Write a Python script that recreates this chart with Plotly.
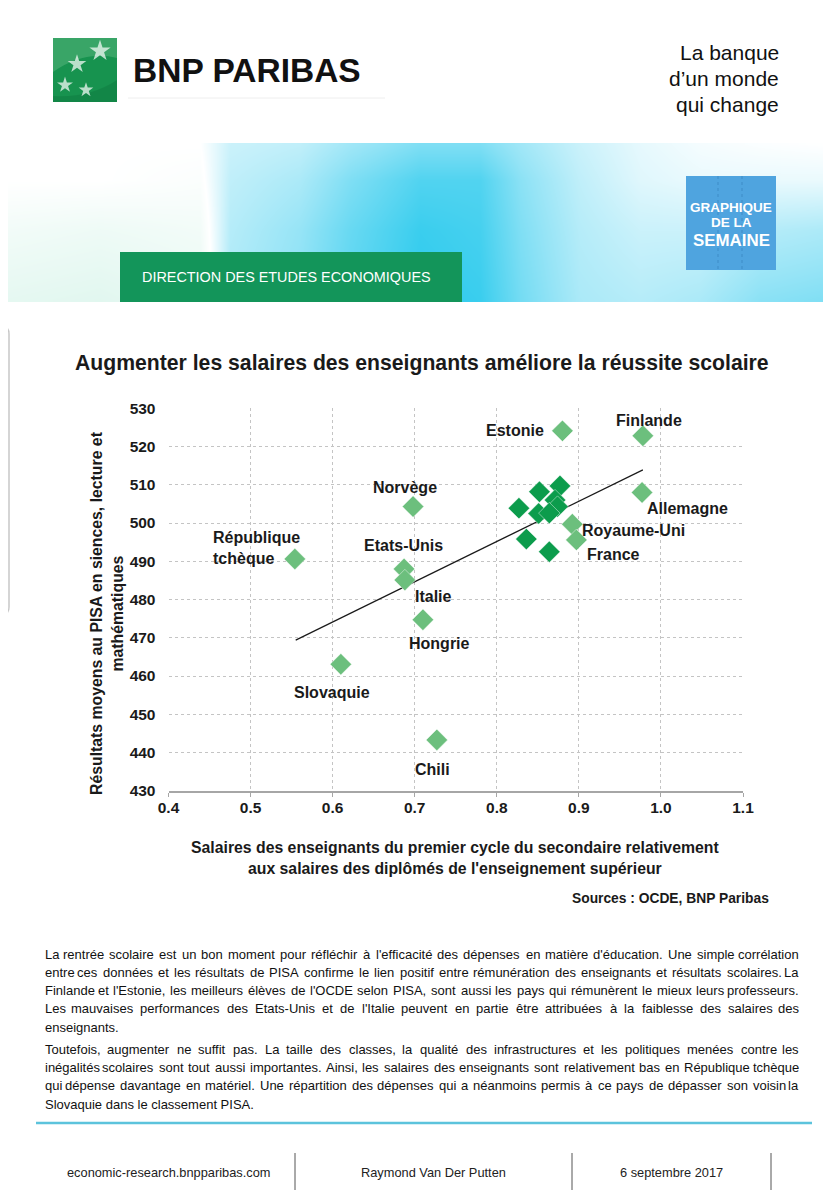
import plotly.graph_objects as go

# ---------------- data ----------------
countries = ["République<br>tchèque", "Norvège", "Etats-Unis", "Italie", "Hongrie",
             "Slovaquie", "Chili", "Estonie", "Finlande", "Allemagne", "Royaume-Uni", "France"]
salary_labeled = [0.554, 0.698, 0.687, 0.688, 0.710, 0.610, 0.727, 0.880, 0.978, 0.977, 0.892, 0.897]
pisa_labeled = [490.6, 504.3, 488.0, 485.1, 474.7, 463.1, 443.3, 524.1, 522.8, 508.0, 499.7, 495.6]

salary_other = [0.827, 0.852, 0.877, 0.851, 0.871, 0.874, 0.864, 0.836, 0.864]
pisa_other = [503.9, 508.2, 509.7, 502.5, 506.0, 504.3, 502.6, 495.8, 492.5]

trend_salary = [0.555, 0.978]
trend_pisa = [469.4, 513.9]

x_ticks = [0.4, 0.5, 0.6, 0.7, 0.8, 0.9, 1.0, 1.1]
x_tick_text = ["0.4", "0.5", "0.6", "0.7", "0.8", "0.9", "1.0", "1.1"]
y_ticks = [430, 440, 450, 460, 470, 480, 490, 500, 510, 520, 530]

chart_title = "Augmenter les salaires des enseignants améliore la réussite scolaire"
y_title = "Résultats moyens au PISA en siences, lecture et<br>mathématiques"
x_title = "Salaires des enseignants du premier cycle du secondaire relativement<br>aux salaires des diplômés de l'enseignement supérieur"
source_text = "Sources : OCDE, BNP Paribas"

para1 = [
    "La rentrée scolaire est un bon moment pour réfléchir à l'efficacité des dépenses en matière d'éducation. Une simple corrélation",
    "entre ces données et les résultats de PISA confirme le lien positif entre rémunération des enseignants et résultats scolaires. La",
    "Finlande et l'Estonie, les meilleurs élèves de l'OCDE selon PISA, sont aussi les pays qui rémunèrent le mieux leurs professeurs.",
    "Les mauvaises performances des Etats-Unis et de l'Italie peuvent en partie être attribuées à la faiblesse des salaires des",
    "enseignants.",
]
para2 = [
    "Toutefois, augmenter ne suffit pas. La taille des classes, la qualité des infrastructures et les politiques menées contre les",
    "inégalités scolaires sont tout aussi importantes. Ainsi, les salaires des enseignants sont relativement bas en République tchèque",
    "qui dépense davantage en matériel. Une répartition des dépenses qui a néanmoins permis à ce pays de dépasser son voisin la",
    "Slovaquie dans le classement PISA.",
]
footer_items = ["economic-research.bnpparibas.com", "Raymond Van Der Putten", "6 septembre 2017"]
header_tagline = ["La banque", "d’un monde", "qui change"]

# ---------------- styles ----------------
W, H = 831, 1200
OFF = 8  # page body margin: the figure is drawn 8 px right/down of the window corner
LIGHT = "#6cbf7d"
DARK = "#0c9c4c"
SANS = "Liberation Sans, Arial, sans-serif"
BAND_TOP, BAND_BOTTOM = 143, 302


def dom_x(a, b):
    return [(a - OFF) / W, (b - OFF) / W]


def dom_y(top, bottom):
    return [1 - (bottom - OFF) / H, 1 - (top - OFF) / H]


# label offsets (pixels) : xshift, yshift, xanchor
label_style = [(-84, 11, "left"), (-8, 19, "center"), (-1, 23, "center"), (29, -16, "center"),
               (17, -24, "center"), (-9, -28, "center"), (-4, -30, "center"), (-47, 0, "center"),
               (6, 15, "center"), (45, -16, "center"), (61, -6, "center"), (37, -15, "center")]

fig = go.Figure()

# ---------- header band gradient (own clipped axes, window pixel coords) ----------
band_x = [0, 100, 200, 230, 300, 350, 420, 480, 520, 580, 640, 700, 760, 831]
band_y = [144, 180, 230, 300]
band_z = [
    [0, 0, 0, 0.25, 0.3, 0.45, 0.6, 0.6, 0.45, 0.25, 0.12, 0.05, 0.02, 0.0],
    [0, 0, -0.05, 0.3, 0.4, 0.6, 0.8, 0.8, 0.55, 0.3, 0.15, 0.1, 0.1, 0.1],
    [-0.15, -0.2, -0.15, 0.35, 0.5, 0.7, 0.9, 0.85, 0.6, 0.35, 0.25, 0.25, 0.35, 0.4],
    [-0.3, -0.35, -0.25, 0.4, 0.55, 0.75, 0.95, 0.9, 0.65, 0.4, 0.35, 0.4, 0.55, 0.6],
]
fig.add_trace(go.Heatmap(
    x=band_x, y=band_y, z=band_z, zmin=-1, zmax=1, zsmooth="best", showscale=False,
    hoverinfo="skip", xaxis="x3", yaxis="y3",
    colorscale=[[0, "rgb(170,232,210)"], [0.5, "rgb(255,255,255)"],
                [0.75, "rgb(150,228,246)"], [1, "rgb(35,200,236)"]],
))

# logo birds
fig.add_trace(go.Scatter(
    x=[100, 77, 65, 86], y=[51, 64, 85, 90], mode="markers", xaxis="x2", yaxis="y2",
    marker=dict(symbol="star", size=[16, 14, 12, 11], color="white", line=dict(width=0)),
    hoverinfo="skip", showlegend=False,
))

# ---------- main chart ----------
fig.add_trace(go.Scatter(
    x=trend_salary, y=trend_pisa, mode="lines", line=dict(color="#1a1a1a", width=1.2),
    hoverinfo="skip", showlegend=False,
))
fig.add_trace(go.Scatter(
    x=salary_other, y=pisa_other, mode="markers", showlegend=False,
    marker=dict(symbol="diamond", size=16.5, color=DARK, line=dict(width=0.8, color="rgba(255,255,255,0.55)")),
))
fig.add_trace(go.Scatter(
    x=salary_labeled, y=pisa_labeled, mode="markers", showlegend=False,
    text=[c.replace("<br>", " ") for c in countries],
    marker=dict(symbol="diamond", size=16.5, color=LIGHT, line=dict(width=0.8, color="rgba(255,255,255,0.55)")),
))

ann = []
for c, sx, py, (xs, ys, xa) in zip(countries, salary_labeled, pisa_labeled, label_style):
    ann.append(dict(x=sx, y=py, xref="x", yref="y", text=c, showarrow=False,
                    xshift=xs, yshift=ys, xanchor=xa, align="left",
                    font=dict(family=SANS, size=16, color="#1a1a1a", weight="bold")))


def pann(x, y, text, size, color="#1a1a1a", bold=False, xanchor="center", angle=0):
    ann.append(dict(x=x, y=y, xref="x2", yref="y2", text=text, showarrow=False, xanchor=xanchor,
                    yanchor="middle", textangle=angle,
                    font=dict(family=SANS, size=size, color=color, weight="bold" if bold else "normal")))


pann(422, 363, chart_title, 21.2, bold=True)
pann(107, 613, y_title, 15.8, bold=True, angle=-90)
pann(455, 858, x_title, 15.8, bold=True)
pann(771, 898, source_text, 13.8, bold=True, xanchor="right")

# header
pann(131, 70, "BNP PARIBAS", 33.5, color="#111", bold=True, xanchor="left")
for i, t in enumerate(header_tagline):
    pann(781, 52 + i * 26.2, t, 21, color="#111", xanchor="right")
pann(140, 277, "DIRECTION DES ETUDES ECONOMIQUES", 14.4, color="white", xanchor="left")
pann(731, 207, "GRAPHIQUE", 13.5, color="white", bold=True)
pann(731, 222, "DE LA", 13.5, color="white", bold=True)
pann(731, 240, "SEMAINE", 16.9, color="white", bold=True)

# body text, justified word by word (Arial / Liberation Sans metrics)
AW = {' ': 278, '!': 278, "'": 191, '’': 222, '(': 333, ')': 333, ',': 278, '-': 333, '.': 278,
      ':': 278, ';': 278, '?': 556,
      'A': 667, 'B': 667, 'C': 722, 'D': 722, 'E': 667, 'F': 611, 'G': 778, 'H': 722, 'I': 278,
      'J': 500, 'K': 667, 'L': 556, 'M': 833, 'N': 722, 'O': 778, 'P': 667, 'Q': 778, 'R': 722,
      'S': 667, 'T': 611, 'U': 722, 'V': 667, 'W': 944, 'X': 667, 'Y': 667, 'Z': 611,
      'a': 556, 'b': 556, 'c': 500, 'd': 556, 'e': 556, 'f': 278, 'g': 556, 'h': 556, 'i': 222,
      'j': 222, 'k': 500, 'l': 222, 'm': 833, 'n': 556, 'o': 556, 'p': 556, 'q': 556, 'r': 333,
      's': 500, 't': 278, 'u': 556, 'v': 500, 'w': 722, 'x': 500, 'y': 500, 'z': 500,
      'é': 556, 'è': 556, 'ê': 556, 'ë': 556, 'à': 556, 'â': 556, 'ô': 556, 'û': 556, 'ù': 556,
      'î': 278, 'ï': 278, 'ç': 500, 'É': 667}
BODY_L, BODY_R = 43, 801
justified = para1[:-1] + para2[:-1]
max_em = max(sum(AW.get(ch, 556) for ch in ln) / 1000 for ln in justified)
BODY_SIZE = round(0.975 * (BODY_R - BODY_L) / max_em, 2)


def tw(s):
    return sum(AW.get(ch, 556) for ch in s) * BODY_SIZE / 1000


def body_line(text, y, justify):
    if not justify:
        pann(BODY_L, y, text, BODY_SIZE, color="#111", xanchor="left")
        return
    words = text.split(" ")
    ws = [tw(w) for w in words]
    gap = (BODY_R - BODY_L - sum(ws)) / (len(words) - 1)
    cur = BODY_L
    for k, (w, wd) in enumerate(zip(words, ws)):
        if k == 0:
            pann(BODY_L, y, w, BODY_SIZE, color="#111", xanchor="left")
        elif k == len(words) - 1:
            pann(BODY_R, y, w, BODY_SIZE, color="#111", xanchor="right")
        else:
            pann(cur + wd / 2, y, w, BODY_SIZE, color="#111", xanchor="center")
        cur += wd + gap


for i, ln in enumerate(para1):
    body_line(ln, 954 + i * 18.3, i < len(para1) - 1)
for i, ln in enumerate(para2):
    body_line(ln, 1049.3 + i * 18.3, i < len(para2) - 1)

for t, xc in zip(footer_items, [168, 433, 671]):
    pann(xc, 1172, t, 12.8, color="#222")


# ---------- shapes (window pixel coords) ----------
def rect(x0, y0, x1, y1, fill, layer="above"):
    return dict(type="rect", xref="x2", yref="y2", x0=x0, y0=y0, x1=x1, y1=y1,
                fillcolor=fill, line=dict(width=0), layer=layer)


def seg(x0, y0, x1, y1, color, width=1, dash="solid"):
    return dict(type="line", xref="x2", yref="y2", x0=x0, y0=y0, x1=x1, y1=y1,
                line=dict(color=color, width=width, dash=dash), layer="above")


shapes = [
    rect(53, 38, 117, 102, "#17934f", layer="below"),
    dict(type="path", xref="x2", yref="y2", path="M53,38 L117,38 L117,58 Q85,50 53,72 Z",
         fillcolor="rgba(120,200,150,0.35)", line=dict(width=0), layer="below"),
    dict(type="path", xref="x2", yref="y2", path="M53,102 L117,102 L117,80 Q90,98 53,96 Z",
         fillcolor="rgba(0,80,40,0.18)", line=dict(width=0), layer="below"),
    seg(128, 98, 385, 98, "#eeeeee", 1),
    rect(120, 252, 462, 302, "#13955a"),
    rect(686, 176, 776, 270, "#4fa4df"),
    seg(718, 176, 718, 270, "rgba(40,110,170,0.45)", 1, "dot"),
    seg(742, 176, 742, 270, "rgba(40,110,170,0.45)", 1, "dot"),
    seg(36, 1123, 812, 1123, "#5cc3dc", 2.5),
    seg(295, 1153, 295, 1190, "#555", 1),
    seg(572, 1153, 572, 1190, "#555", 1),
    seg(771, 1153, 771, 1190, "#555", 1),
    dict(type="path", xref="x2", yref="y2",
         path="M-20,326 L1,326 Q9,326 9,334 L9,607 Q9,615 1,615 L-20,615",
         line=dict(color="#c8c8c8", width=1.5), layer="above"),
]

fig.update_layout(
    width=W, height=H, autosize=False, margin=dict(l=0, r=0, t=0, b=0, pad=0),
    paper_bgcolor="white", plot_bgcolor="rgba(0,0,0,0)",
    font=dict(family=SANS, color="#1a1a1a"),
    showlegend=False,
    annotations=ann, shapes=shapes,
    xaxis=dict(domain=dom_x(168.5, 743), range=[0.4, 1.1], tickvals=x_ticks, ticktext=x_tick_text,
               tickfont=dict(family=SANS, size=15.5, color="#1a1a1a", weight="bold"),
               showgrid=True, gridcolor="#c4c4c4", griddash="dot", gridwidth=1,
               showline=True, linecolor="#a6a6a6", linewidth=2, ticks="outside", ticklen=4,
               tickcolor="#a6a6a6", ticklabelstandoff=-2, zeroline=False, fixedrange=True,
               automargin=False),
    yaxis=dict(domain=dom_y(408.3, 790.8), range=[430, 530], tickvals=y_ticks,
               tickfont=dict(family=SANS, size=15.5, color="#1a1a1a", weight="bold"),
               showgrid=True, gridcolor="#c4c4c4", griddash="dot", gridwidth=1,
               showline=False, zeroline=False, ticks="", ticklabelstandoff=12, fixedrange=True,
               automargin=False),
    xaxis2=dict(domain=[0, 1], range=[OFF, W + OFF], visible=False, fixedrange=True, anchor="y2",
                automargin=False),
    yaxis2=dict(domain=[0, 1], range=[H + OFF, OFF], visible=False, fixedrange=True, anchor="x2",
                automargin=False),
    xaxis3=dict(domain=[0, 1], range=[OFF, W + OFF], visible=False, fixedrange=True, anchor="y3",
                automargin=False),
    yaxis3=dict(domain=dom_y(BAND_TOP, BAND_BOTTOM), range=[BAND_BOTTOM, BAND_TOP], visible=False,
                fixedrange=True, anchor="x3", automargin=False),
)

fig.write_html("out.html")
